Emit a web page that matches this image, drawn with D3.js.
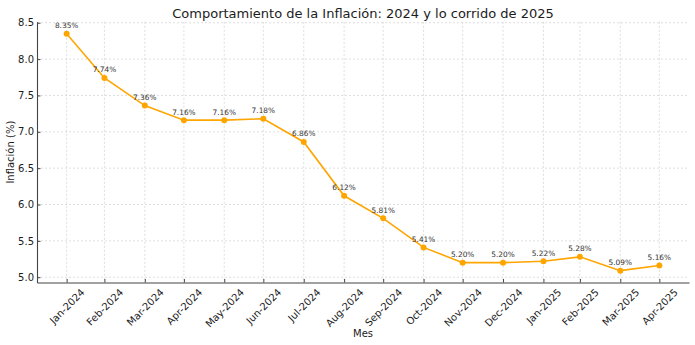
<!DOCTYPE html>
<html>
<head>
<meta charset="utf-8">
<script src="https://cdn.jsdelivr.net/npm/d3@7"></script>
<style>
  html, body { margin: 0; padding: 0; background: #fff; }
  svg { display: block; font-family: "DejaVu Sans", sans-serif; }
</style>
</head>
<body>
<svg id="chart" width="695" height="345"></svg>
<script>
// ---- data ----
const months = ["Jan-2024","Feb-2024","Mar-2024","Apr-2024","May-2024","Jun-2024","Jul-2024","Aug-2024",
                "Sep-2024","Oct-2024","Nov-2024","Dec-2024","Jan-2025","Feb-2025","Mar-2025","Apr-2025"];
const inflation = [8.35, 7.74, 7.36, 7.16, 7.16, 7.18, 6.86, 6.12, 5.81, 5.41, 5.20, 5.20, 5.22, 5.28, 5.09, 5.16];
const yTicks = [5.0, 5.5, 6.0, 6.5, 7.0, 7.5, 8.0, 8.5];
const title = "Comportamiento de la Inflación: 2024 y lo corrido de 2025";
const xLabel = "Mes";
const yLabel = "Inflación (%)";

// ---- layout ----
const W = 695, H = 345;
const plot = { left: 37, right: 689, top: 21.8, bottom: 282.5 };
const svg = d3.select("#chart");
const textColor = "#1c1c1c";

// month-end dates
const parse = d3.timeParse("%b-%Y");
const dates = months.map(m => d3.timeDay.offset(d3.timeMonth.offset(parse(m), 1), -1));

const xExt = d3.extent(dates);
const xPad = (xExt[1] - xExt[0]) * 0.05;
const x = d3.scaleTime()
  .domain([new Date(+xExt[0] - xPad), new Date(+xExt[1] + xPad)])
  .range([plot.left, plot.right]);

const yExt = d3.extent(inflation);
const yPad = (yExt[1] - yExt[0]) * 0.05;
const y = d3.scaleLinear()
  .domain([yExt[0] - yPad, yExt[1] + yPad])
  .range([plot.bottom, plot.top]);

// ---- grid ----
const grid = svg.append("g");
grid.selectAll("line.v").data(dates).join("line")
  .attr("x1", d => x(d)).attr("x2", d => x(d))
  .attr("y1", plot.top).attr("y2", plot.bottom)
  .attr("stroke", "#d6d6d6").attr("stroke-width", 0.8).attr("stroke-dasharray", "2,2");
grid.selectAll("line.h").data(yTicks).join("line")
  .attr("x1", plot.left).attr("x2", plot.right)
  .attr("y1", d => y(d)).attr("y2", d => y(d))
  .attr("stroke", "#d6d6d6").attr("stroke-width", 0.8).attr("stroke-dasharray", "2,2");

// ---- axes ----
const xAxis = d3.axisBottom(x).tickValues(dates).tickSizeInner(-3.5).tickSizeOuter(0)
  .tickFormat((d, i) => months[i]);
const gx = svg.append("g").attr("transform", `translate(0,${plot.bottom})`).call(xAxis);
gx.select(".domain").attr("stroke", "#444").attr("stroke-width", 1.1);
gx.selectAll(".tick line").attr("stroke", "#444");
gx.selectAll(".tick text")
  .attr("font-size", 10).attr("fill", textColor)
  .attr("font-family", "DejaVu Sans, sans-serif")
  .each(function () {
    const t = d3.select(this);
    const w = this.getComputedTextLength();
    const h = 11.6;
    const bh = (w + h) * Math.SQRT1_2;
    const cy = 4 + bh / 2;
    t.attr("y", null).attr("dy", null)
      .attr("text-anchor", "middle")
      .attr("dominant-baseline", "central")
      .attr("transform", `translate(0,${cy}) rotate(-45)`);
  });

const yAxis = d3.axisLeft(y).tickValues(yTicks).tickSizeInner(-3.5).tickSizeOuter(0)
  .tickPadding(3).tickFormat(d3.format(".1f"));
const gy = svg.append("g").attr("transform", `translate(${plot.left},0)`).call(yAxis);
gy.select(".domain").attr("stroke", "#444").attr("stroke-width", 1.1);
gy.selectAll(".tick line").attr("stroke", "#444");
gy.selectAll(".tick text").attr("font-size", 10).attr("fill", textColor)
  .attr("font-family", "DejaVu Sans, sans-serif")
  .attr("x", -3);

// ---- line + markers ----
const line = d3.line().x((d, i) => x(dates[i])).y(d => y(d));
svg.append("path").datum(inflation)
  .attr("d", line).attr("fill", "none")
  .attr("stroke", "#FFA500").attr("stroke-width", 1.6);
svg.append("g").selectAll("circle").data(inflation).join("circle")
  .attr("cx", (d, i) => x(dates[i])).attr("cy", d => y(d))
  .attr("r", 3).attr("fill", "#FFA500");

// ---- annotations ----
svg.append("g").selectAll("text").data(inflation).join("text")
  .attr("x", (d, i) => x(dates[i])).attr("y", d => y(d) - 5.5)
  .attr("text-anchor", "middle").attr("font-size", 7.4).attr("fill", "#333")
  .text(d => d3.format(".2f")(d) + "%");

// ---- titles ----
svg.append("text").attr("x", (plot.left + plot.right) / 2).attr("y", 17.5)
  .attr("text-anchor", "middle").attr("font-size", 13).attr("fill", textColor)
  .text(title);
svg.append("text").attr("x", (plot.left + plot.right) / 2).attr("y", 336.5)
  .attr("text-anchor", "middle").attr("font-size", 10).attr("fill", textColor)
  .text(xLabel);
svg.append("text").attr("transform", `translate(14,${(plot.top + plot.bottom) / 2}) rotate(-90)`)
  .attr("text-anchor", "middle").attr("font-size", 10).attr("fill", textColor)
  .text(yLabel);
</script>
</body>
</html>
